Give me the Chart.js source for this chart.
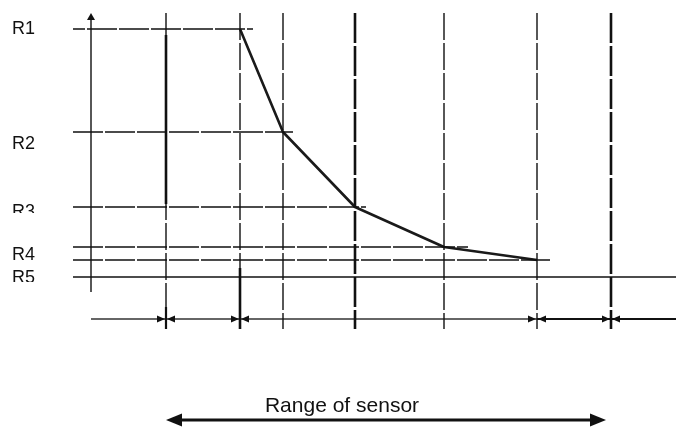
<!DOCTYPE html>
<html>
<head>
<meta charset="utf-8">
<script src="https://cdn.jsdelivr.net/npm/chart.js@4.4.1/dist/chart.umd.min.js"></script>
<style>
  html, body { margin: 0; padding: 0; background: #fff; }
  #sensorChart { display: block; }
</style>
</head>
<body>
<canvas id="sensorChart" width="676" height="427"></canvas>
<script>
// distance along the track, origin on the vertical axis
var markX = [75, 149, 192, 264, 353, 446, 520];
// resistance levels, R5 at zero
var levelNames = ["R1", "R2", "R3", "R4", "", "R5"];
var levelY = [248, 145, 70, 30, 17, 0];
var levelEnd = [162, 202, 275, 377, 459, 585];
// label baselines (and where the label gets cut off)
var labelY = [243, 128, 60, 17, -6];
var labelClip = [null, null, 64, null, -5];
var labelText = ["R1", "R2", "R3", "R4", "R5"];

// response curve
var curveX = [149, 192, 264, 353, 446];
var curveY = [248, 145, 70, 30, 17];

// zone arrows under the plot: [from, to, headAtFrom, headAtTo]
var zoneArrows = [
  [0, 75, false, true],
  [75, 149, true, true],
  [149, 446, true, true],
  [446, 520, true, true],
  [520, 585, true, false]
];
var zoneY = -42;
var rangeFrom = 75, rangeTo = 515, rangeY = -143;
var rangeLabel = "Range of sensor";

var ink = "#111";
var datasets = [];

// horizontal level lines
levelY.forEach(function (y, i) {
  datasets.push({
    data: [{ x: -18, y: y }, { x: levelEnd[i], y: y }],
    borderColor: ink,
    borderWidth: 1.4,
    borderDash: i === 5 ? [] : [30, 2],
    borderDashOffset: i === 0 ? 18 : 0,
    pointRadius: 0,
    showLine: true
  });
});

// vertical distance marks
var thickMarks = [false, false, false, true, false, false, true];
markX.forEach(function (x, i) {
  datasets.push({
    data: [{ x: x, y: 264 }, { x: x, y: -52 }],
    borderColor: ink,
    borderWidth: thickMarks[i] ? 2.6 : 1.4,
    borderDash: thickMarks[i] ? [30, 3] : [27, 3],
    pointRadius: 0,
    showLine: true
  });
});
// heavier stretches on the first two marks
datasets.push({
  data: [{ x: 75, y: 242 }, { x: 75, y: 73 }],
  borderColor: ink, borderWidth: 2.6, pointRadius: 0, showLine: true
});
datasets.push({
  data: [{ x: 75, y: -30 }, { x: 75, y: -52 }],
  borderColor: ink, borderWidth: 2.2, pointRadius: 0, showLine: true
});
datasets.push({
  data: [{ x: 149, y: 9 }, { x: 149, y: -52 }],
  borderColor: ink, borderWidth: 2.6, pointRadius: 0, showLine: true
});

// vertical axis
datasets.push({
  data: [{ x: 0, y: 258 }, { x: 0, y: -15 }],
  borderColor: ink, borderWidth: 1.4, pointRadius: 0, showLine: true
});

// zone arrow shafts
zoneArrows.forEach(function (a, i) {
  datasets.push({
    data: [{ x: a[0], y: zoneY }, { x: a[1], y: zoneY }],
    borderColor: i < 3 ? "#333" : ink,
    borderWidth: i < 3 ? 1.6 : 2,
    pointRadius: 0,
    showLine: true
  });
});

// range arrow shaft
datasets.push({
  data: [{ x: rangeFrom + 12, y: rangeY }, { x: rangeTo - 12, y: rangeY }],
  borderColor: ink, borderWidth: 3, pointRadius: 0, showLine: true
});

// the response curve itself
datasets.push({
  data: curveX.map(function (x, i) { return { x: x, y: curveY[i] }; }),
  borderColor: "#1a1a1a",
  borderWidth: 2.6,
  pointRadius: 0,
  showLine: true,
  borderJoinStyle: "round"
});

function head(ctx, tipX, tipY, dir, len, half) {
  ctx.beginPath();
  ctx.moveTo(tipX, tipY);
  ctx.lineTo(tipX - dir * len, tipY - half);
  ctx.lineTo(tipX - dir * len, tipY + half);
  ctx.closePath();
  ctx.fill();
}

var annotations = {
  id: "annotations",
  afterDatasetsDraw: function (chart) {
    var ctx = chart.ctx;
    var xs = chart.scales.x, ys = chart.scales.y;
    ctx.save();
    ctx.fillStyle = ink;

    // axis arrow
    var ax = xs.getPixelForValue(0), ay = ys.getPixelForValue(264);
    ctx.beginPath();
    ctx.moveTo(ax, ay);
    ctx.lineTo(ax - 4, ay + 7);
    ctx.lineTo(ax + 4, ay + 7);
    ctx.closePath();
    ctx.fill();

    // zone arrow heads
    var zy = ys.getPixelForValue(zoneY);
    zoneArrows.forEach(function (a) {
      if (a[2]) head(ctx, xs.getPixelForValue(a[0]) + 1, zy, -1, 8, 3.5);
      if (a[3]) head(ctx, xs.getPixelForValue(a[1]) - 1, zy, 1, 8, 3.5);
    });

    // range arrow heads
    var ry = ys.getPixelForValue(rangeY);
    head(ctx, xs.getPixelForValue(rangeFrom), ry, -1, 16, 6.5);
    head(ctx, xs.getPixelForValue(rangeTo), ry, 1, 16, 6.5);

    ctx.font = "21px 'Liberation Sans', Arial, sans-serif";
    ctx.textAlign = "center";
    ctx.textBaseline = "alphabetic";
    ctx.fillStyle = "#111";
    ctx.fillText(rangeLabel, xs.getPixelForValue(251), ys.getPixelForValue(-135));

    // level labels
    ctx.font = "18px 'Liberation Sans', Arial, sans-serif";
    ctx.textAlign = "left";
    labelText.forEach(function (t, i) {
      ctx.save();
      if (labelClip[i] !== null) {
        ctx.beginPath();
        ctx.rect(0, 0, 60, ys.getPixelForValue(labelClip[i]));
        ctx.clip();
      }
      ctx.fillText(t, xs.getPixelForValue(-79), ys.getPixelForValue(labelY[i]));
      ctx.restore();
    });
    ctx.restore();
  }
};

new Chart(document.getElementById("sensorChart").getContext("2d"), {
  type: "scatter",
  data: { datasets: datasets },
  options: {
    responsive: false,
    animation: false,
    layout: { padding: 0 },
    plugins: { legend: { display: false }, tooltip: { enabled: false } },
    scales: {
      x: { type: "linear", min: -91, max: 585, display: false },
      y: { type: "linear", min: -150, max: 277, display: false }
    }
  },
  plugins: [annotations]
});
</script>
</body>
</html>
